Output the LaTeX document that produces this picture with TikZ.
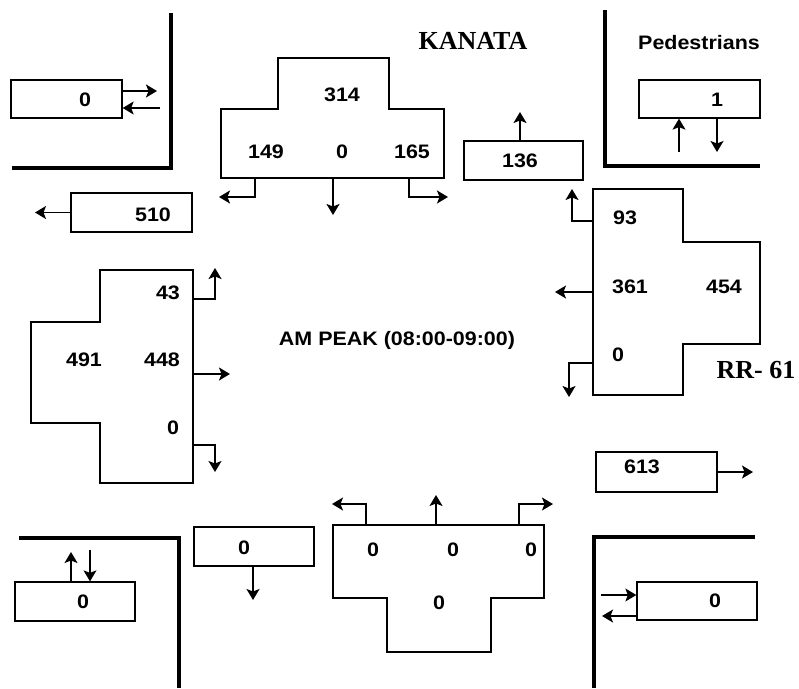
\documentclass[tikz,border=0pt]{standalone}
\usepackage{fontspec}
\setmainfont[FakeStretch=1.1]{Liberation Sans}
\newfontfamily\serifb{Liberation Serif}
\usetikzlibrary{arrows.meta}
\begin{document}
\begin{tikzpicture}[x=1pt,y=-1pt,
  box/.style={draw,line width=1.3pt,inner sep=0pt},
  num/.style={font=\fontsize{19.5}{22}\selectfont\bfseries,inner sep=0pt},
  ttl/.style={font=\fontsize{26}{30}\selectfont\serifb\bfseries,inner sep=0pt},
  arr/.style={line width=1.3pt,-{Stealth[length=11pt,width=13pt,inset=2.5pt]}},
  wall/.style={line width=3.8pt},
  tee/.style={draw,line width=1.3pt}]
\useasboundingbox (0,0) rectangle (799,688);

% thick corner walls
\draw[wall] (171,13) -- (171,168) -- (12,168);
\draw[wall] (605,10) -- (605,166) -- (760,166);
\draw[wall] (19,538) -- (179,538) -- (179,688);
\draw[wall] (755,537) -- (594,537) -- (594,688);

% titles
\node[ttl] (kanata) at (473,41) {KANATA};
\node[ttl] (rr) at (756,370) {RR- 61};
\node[num] (ped) at (699,43) {Pedestrians};
\node[num] (peak) at (397,340) {AM PEAK (08:00-09:00)};

% rectangular boxes
\node[box,minimum width=111pt,minimum height=38pt] (nwp) at (66.5,99) {};
\node[box,minimum width=121pt,minimum height=39pt] (b510) at (131.5,212.5) {};
\node[box,minimum width=119pt,minimum height=39pt] (b136) at (523.5,160.5) {};
\node[box,minimum width=121pt,minimum height=38pt] (nep) at (699.5,99) {};
\node[box,minimum width=121pt,minimum height=40pt] (b613) at (656.5,472) {};
\node[box,minimum width=120pt,minimum height=38pt] (sep) at (697,601) {};
\node[box,minimum width=120pt,minimum height=39pt] (swp) at (75,601.5) {};
\node[box,minimum width=120pt,minimum height=39pt] (bs0) at (254,546.5) {};

\node[num] at (85,100) {0};
\node[num] at (153,215) {510};
\node[num] at (520,161) {136};
\node[num] at (717,100) {1};
\node[num] at (642,467) {613};
\node[num] at (715,601) {0};
\node[num] at (83,602) {0};
\node[num] at (244,548) {0};

% T-shaped approach blocks
\draw[tee] (221,178) -- (221,109) -- (278,109) -- (278,58) -- (389,58) -- (389,109) -- (444,109) -- (444,178) -- cycle;
\draw[tee] (593,189) -- (683,189) -- (683,242) -- (760,242) -- (760,344) -- (683,344) -- (683,395) -- (593,395) -- cycle;
\draw[tee] (100,270) -- (193,270) -- (193,483) -- (100,483) -- (100,423) -- (31,423) -- (31,322) -- (100,322) -- cycle;
\draw[tee] (333,525) -- (544,525) -- (544,598) -- (491,598) -- (491,652) -- (387,652) -- (387,598) -- (333,598) -- cycle;

% north block numbers
\node[num] at (342,95) {314};
\node[num] at (266,152) {149};
\node[num] at (342,152) {0};
\node[num] at (412,152) {165};
% east block numbers
\node[num] at (625,218) {93};
\node[num] at (630,287) {361};
\node[num] at (724,287) {454};
\node[num] at (618,355) {0};
% west block numbers
\node[num] at (168,293) {43};
\node[num] at (84,360) {491};
\node[num] at (162,360) {448};
\node[num] at (173,428) {0};
% south block numbers
\node[num] at (373,550) {0};
\node[num] at (453,550) {0};
\node[num] at (531,550) {0};
\node[num] at (439,603) {0};

% box arrows
\draw[arr] ([yshift=8pt]nwp.east) -- (157,91);
\draw[arr] (160,108) -- ([yshift=-9pt]nwp.east);
\draw[arr] (b510.west) -- (35,212.5);
\draw[arr] ([xshift=-3.5pt]b136.north) -- (520,112);
\draw[arr] (679,152) -- ([xshift=-20.5pt]nep.south);
\draw[arr] ([xshift=17.5pt]nep.south) -- (717,152);
\draw[arr] (b613.east) -- (753,472);
\draw[arr] (601,595) -- ([yshift=6pt]sep.west);
\draw[arr] ([yshift=-15pt]sep.west) -- (602,616);
\draw[arr] ([xshift=-4pt]swp.north) -- (71,552);
\draw[arr] (90,550) -- ([xshift=15pt]swp.north);
\draw[arr] ([xshift=-1pt]bs0.south) -- (253,600);

% north block arrows
\draw[arr] (255,178) -- (255,197) -- (219,197);
\draw[arr] (333,178) -- (333,215);
\draw[arr] (409,178) -- (409,197) -- (448,197);
% east block arrows
\draw[arr] (593,221) -- (572,221) -- (572,189);
\draw[arr] (593,292) -- (555,292);
\draw[arr] (593,363) -- (569,363) -- (569,397);
% west block arrows
\draw[arr] (193,299) -- (215,299) -- (215,268);
\draw[arr] (193,374) -- (230,374);
\draw[arr] (193,445) -- (215,445) -- (215,472);
% south block arrows
\draw[arr] (366,525) -- (366,504) -- (332,504);
\draw[arr] (436,525) -- (436,495);
\draw[arr] (519,525) -- (519,504) -- (553,504);
\end{tikzpicture}
\end{document}
